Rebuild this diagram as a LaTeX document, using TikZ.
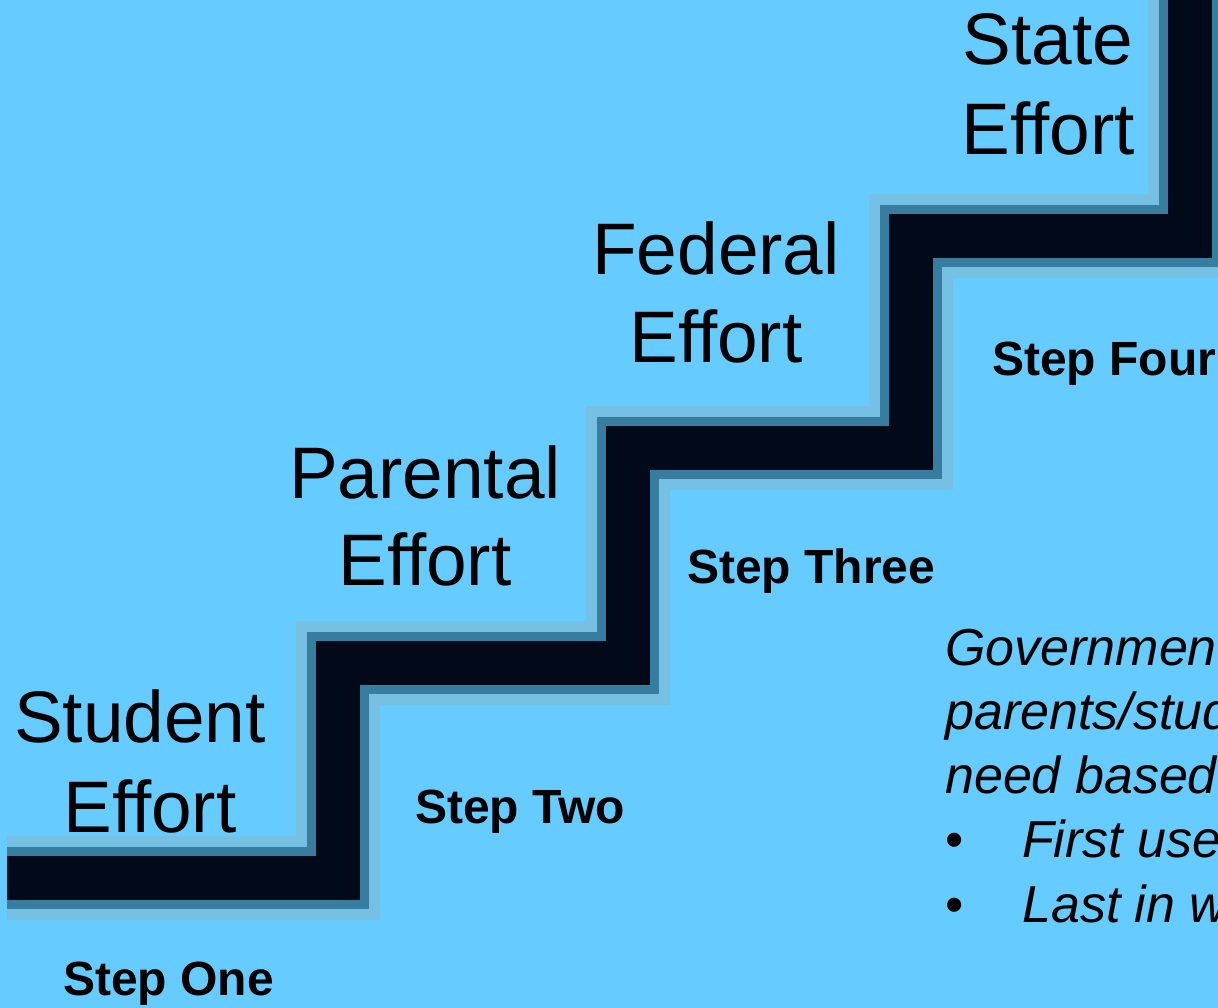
\documentclass[tikz,border=0pt]{standalone}
\usepackage{fontspec}
\setmainfont{Liberation Sans}
\begin{document}
\begin{tikzpicture}[x=1pt,y=-1pt,
  big/.style={font=\fontsize{73}{88}\selectfont, inner sep=0pt, anchor=base},
  steplbl/.style={font=\bfseries\fontsize{48}{56}\selectfont, inner sep=0pt, anchor=base west},
  note/.style={font=\itshape\fontsize{52}{64}\selectfont, inner sep=0pt, anchor=base west},
  bul/.style={font=\fontsize{52}{64}\selectfont, inner sep=0pt, anchor=base west},
  halo/.style={line width=84pt, draw={rgb,255:red,118;green,192;blue,228}, line join=miter},
  mid/.style={line width=62pt, draw={rgb,255:red,55;green,125;blue,160}, line join=miter},
  core/.style={line width=44pt, draw={rgb,255:red,2;green,10;blue,25}, line join=miter},
]
\definecolor{bg}{RGB}{102,204,255}
\useasboundingbox (0,0) rectangle (1218,1008);
\clip (0,0) rectangle (1218,1008);
\fill[bg] (0,0) rectangle (1218,1008);

% staircase
\coordinate (s0) at (7,878);
\coordinate (s1) at (338,878);
\coordinate (s2) at (338,663);
\coordinate (s3) at (628,663);
\coordinate (s4) at (628,448);
\coordinate (s5) at (911,448);
\coordinate (s6) at (911,236);
\coordinate (s7) at (1190,236);
\coordinate (s8) at (1190,-60);
\draw[halo] (s0) -- (s1) -- (s2) -- (s3) -- (s4) -- (s5) -- (s6) -- (s7) -- (s8);
\draw[mid] (s0) -- (s1) -- (s2) -- (s3) -- (s4) -- (s5) -- (s6) -- (s7) -- (s8);
\draw[core] (s0) -- (s1) -- (s2) -- (s3) -- (s4) -- (s5) -- (s6) -- (s7) -- (s8);

% effort labels
\node[big] (stA) at (1048,65) {State};
\node[big] (stB) at (1048,155) {Effort};
\node[big] (feA) at (716,275) {Federal};
\node[big] (feB) at (716,362) {Effort};
\node[big] (paA) at (425,498) {Parental};
\node[big] (paB) at (425,585) {Effort};
\node[big] (suA) at (140,742) {Student};
\node[big] (suB) at (150,832) {Effort};

% step labels
\node[steplbl] (one) at (63,995) {Step One};
\node[steplbl] (two) at (415,823) {Step Two};
\node[steplbl] (three) at (687,583) {Step Three};
\node[steplbl] (four) at (992,375) {Step Four};

% note
\node[note] (n1) at (945,665) {Government};
\node[note] (n2) at (945,729) {parents/students};
\node[note] (n3) at (945,793) {need based};
\node[bul] (b1) at (945,857) {•};
\node[note] (n4) at (1022,857) {First used};
\node[bul] (b2) at (945,922) {•};
\node[note] (n5) at (1022,922) {Last in what};
\end{tikzpicture}
\end{document}
